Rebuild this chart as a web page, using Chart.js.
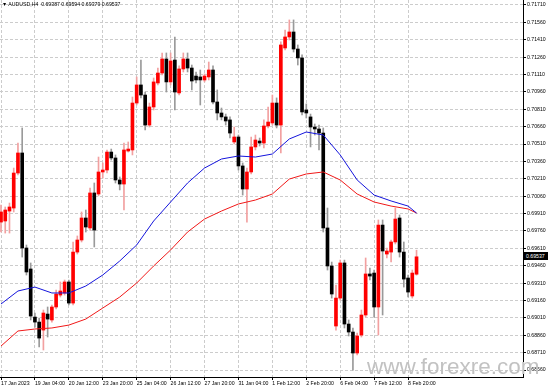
<!DOCTYPE html>
<html>
<head>
<meta charset="utf-8">
<script src="https://cdn.jsdelivr.net/npm/chart.js@4.4.0/dist/chart.umd.min.js"></script>
<style>
  html, body { margin: 0; padding: 0; background: #fff; }
  #wrap { position: relative; width: 548px; height: 389px; overflow: hidden; }
  #title { position: absolute; left: 2px; top: 1px; font: 5.2px 'Liberation Sans', Arial, sans-serif; color: #000; white-space: pre; }
  #mark { position: absolute; left: 367px; top: 354px; font: 22.5px 'Liberation Sans', Arial, sans-serif; color: #c2c2c2; }
  #price { position: absolute; left: 523px; top: 252px; width: 22px; height: 8px; padding-left: 3px; background: #000; color: #fff; font: 5.2px 'Liberation Sans', Arial, sans-serif; line-height: 8px; }
</style>
</head>
<body>
<div id="wrap">
  <canvas id="chart" width="548" height="389"></canvas>
  <div id="title">▼ AUDUSD,H4  0.69387 0.69594 0.69379 0.69537</div>
  <div id="mark">www.forexre.com</div>
  <div id="price">0.69537</div>
</div>
<script>
// AUDUSD H4 candles, 17 Jan 20:00 .. 9 Feb 04:00
const opens = [0.69837, 0.69846, 0.69932, 0.69958, 0.70260, 0.70433, 0.69613, 0.69432, 0.69017, 0.68974,
  0.68905, 0.69043, 0.68992, 0.69104, 0.69207, 0.69225, 0.69320, 0.69138, 0.69578, 0.69682,
  0.69872, 0.69786, 0.70088, 0.70079, 0.70269, 0.70286, 0.70441, 0.70390, 0.70200, 0.70165,
  0.70450, 0.70459, 0.70864, 0.71020, 0.70933, 0.70674, 0.70830, 0.71037, 0.71123, 0.71244,
  0.71046, 0.71235, 0.70951, 0.71158, 0.71244, 0.71166, 0.71097, 0.71089, 0.71063, 0.71089,
  0.71149, 0.70873, 0.70778, 0.70744, 0.70718, 0.70528, 0.70571, 0.70321, 0.70122, 0.70269,
  0.70485, 0.70536, 0.70519, 0.70666, 0.70692, 0.70864, 0.70674, 0.71339, 0.71434, 0.71477,
  0.71330, 0.71253, 0.70804, 0.70744, 0.70657, 0.70640, 0.70605, 0.69786, 0.69458, 0.68940,
  0.69181, 0.69484, 0.68957, 0.68888, 0.68707, 0.68862, 0.69035, 0.69389, 0.69397, 0.69104,
  0.69811, 0.69561, 0.69578, 0.69665, 0.69872, 0.69578, 0.69354, 0.69199, 0.69387];
const highs = [0.69984, 0.69967, 0.70001, 0.70303, 0.70519, 0.70649, 0.69639, 0.69484, 0.69052, 0.69009,
  0.69078, 0.69104, 0.69121, 0.69251, 0.69320, 0.69337, 0.69337, 0.69665, 0.69717, 0.69924,
  0.69941, 0.70131, 0.70174, 0.70398, 0.70347, 0.70459, 0.70467, 0.70416, 0.70226, 0.70519,
  0.70528, 0.70916, 0.71089, 0.71235, 0.70959, 0.70864, 0.71080, 0.71166, 0.71296, 0.71296,
  0.71296, 0.71434, 0.71184, 0.71296, 0.71296, 0.71192, 0.71132, 0.71149, 0.71115, 0.71218,
  0.71184, 0.70977, 0.70821, 0.70769, 0.70744, 0.70657, 0.70588, 0.70347, 0.70303, 0.70571,
  0.70588, 0.70562, 0.70718, 0.70830, 0.70933, 0.70908, 0.71391, 0.71494, 0.71581, 0.71581,
  0.71365, 0.71279, 0.70856, 0.70769, 0.70683, 0.70674, 0.70649, 0.69958, 0.69492, 0.69294,
  0.69509, 0.69509, 0.68992, 0.68923, 0.68879, 0.69078, 0.69527, 0.69440, 0.69423, 0.69855,
  0.69855, 0.69613, 0.69682, 0.69958, 0.69898, 0.69665, 0.69380, 0.69423, 0.69594];
const lows = [0.69751, 0.69742, 0.69742, 0.69924, 0.70243, 0.69535, 0.69380, 0.68992, 0.68931, 0.68759,
  0.68733, 0.68845, 0.68974, 0.69087, 0.69190, 0.69207, 0.69121, 0.69121, 0.69561, 0.69665,
  0.69751, 0.69768, 0.69622, 0.70062, 0.70217, 0.70260, 0.70372, 0.70174, 0.70114, 0.69941,
  0.70441, 0.70416, 0.70847, 0.70908, 0.70631, 0.70657, 0.70804, 0.71020, 0.71106, 0.70959,
  0.71020, 0.70804, 0.70933, 0.71132, 0.71132, 0.70977, 0.71037, 0.70847, 0.71046, 0.71063,
  0.70856, 0.70718, 0.70718, 0.70674, 0.70562, 0.70511, 0.70286, 0.70070, 0.69837, 0.70252,
  0.70459, 0.70493, 0.70476, 0.70649, 0.70674, 0.70649, 0.70433, 0.71322, 0.71408, 0.71304,
  0.71192, 0.70761, 0.70735, 0.70485, 0.70588, 0.70459, 0.69751, 0.69423, 0.69181, 0.68905,
  0.69164, 0.68923, 0.68854, 0.68560, 0.68690, 0.68845, 0.69017, 0.69337, 0.69017, 0.68862,
  0.69035, 0.69527, 0.69492, 0.69648, 0.69535, 0.69276, 0.69190, 0.69181, 0.69379];
const closes = [0.69924, 0.69941, 0.69967, 0.70260, 0.70433, 0.69613, 0.69406, 0.69026, 0.68974, 0.68836,
  0.69052, 0.69000, 0.69104, 0.69216, 0.69242, 0.69320, 0.69138, 0.69578, 0.69682, 0.69872,
  0.69794, 0.70088, 0.69768, 0.70269, 0.70286, 0.70441, 0.70390, 0.70200, 0.70165, 0.70459,
  0.70467, 0.70864, 0.71020, 0.70933, 0.70674, 0.70830, 0.71046, 0.71123, 0.71244, 0.71046,
  0.71227, 0.70959, 0.71158, 0.71244, 0.71166, 0.71054, 0.71063, 0.71063, 0.71097, 0.71149,
  0.70873, 0.70778, 0.70744, 0.70709, 0.70605, 0.70571, 0.70321, 0.70122, 0.70269, 0.70485,
  0.70545, 0.70519, 0.70666, 0.70700, 0.70864, 0.70674, 0.71365, 0.71434, 0.71477, 0.71330,
  0.71253, 0.70787, 0.70778, 0.70657, 0.70640, 0.70605, 0.69786, 0.69458, 0.69216, 0.69181,
  0.69484, 0.68957, 0.68888, 0.68707, 0.68854, 0.69035, 0.69389, 0.69371, 0.69104, 0.69811,
  0.69587, 0.69587, 0.69665, 0.69863, 0.69578, 0.69345, 0.69233, 0.69397, 0.69537];

// moving averages, read at every 4th bar
const maBars = [0, 4, 8, 12, 16, 20, 24, 28, 32, 36, 40, 44, 48, 52, 56, 60, 64, 68, 72, 76, 80, 84, 88, 92, 96, 98];
const maFast = [0.69130, 0.69242, 0.69276, 0.69225, 0.69225, 0.69285, 0.69380, 0.69501, 0.69639, 0.69846,
  0.70010, 0.70174, 0.70303, 0.70381, 0.70407, 0.70398, 0.70424, 0.70554, 0.70614, 0.70588,
  0.70416, 0.70200, 0.70070, 0.70019, 0.69975, 0.69915];
const maSlow = [0.68767, 0.68897, 0.68914, 0.68923, 0.68948, 0.69000, 0.69095, 0.69190, 0.69311, 0.69458,
  0.69596, 0.69751, 0.69863, 0.69932, 0.69993, 0.70027, 0.70079, 0.70208, 0.70252, 0.70269,
  0.70200, 0.70079, 0.70010, 0.69975, 0.69950, 0.69915];

const timeBars = [0, 8, 16, 24, 32, 40, 48, 56, 64, 72, 80, 88, 96];
const timeLabels = ['17 Jan 2023', '19 Jan 04:00', '20 Jan 12:00', '23 Jan 20:00', '25 Jan 04:00', '26 Jan 12:00',
  '27 Jan 20:00', '31 Jan 04:00', '1 Feb 12:00', '2 Feb 20:00', '6 Feb 04:00', '7 Feb 12:00', '8 Feb 20:00'];
const priceTicks = [0.68560, 0.68710, 0.68860, 0.69010, 0.69160, 0.69310, 0.69460, 0.69610, 0.69760, 0.69910, 0.70060,
  0.70210, 0.70360, 0.70510, 0.70660, 0.70810, 0.70960, 0.71110, 0.71260, 0.71410, 0.71560, 0.71710];

const isUp = closes.map((c, i) => c >= opens[i]);
const wicks = highs.map((h, i) => ({ x: i, y: [lows[i], h] }));
const bodies = opens.map((o, i) => ({ x: i, y: [o, closes[i]] }));

const smallFont = { family: "'Liberation Sans', Arial, sans-serif", size: 5.2 };
const gridColor = '#cccccc';

new Chart(document.getElementById('chart'), {
  type: 'bar',
  data: {
    datasets: [
      {
        type: 'line', data: maBars.map((b, i) => ({ x: b, y: maFast[i] })),
        borderColor: '#1414dc', borderWidth: 1, pointRadius: 0, tension: 0, order: 0
      },
      {
        type: 'line', data: maBars.map((b, i) => ({ x: b, y: maSlow[i] })),
        borderColor: '#f01818', borderWidth: 1, pointRadius: 0, tension: 0, order: 0
      },
      {
        data: bodies, barThickness: 3, minBarLength: 1, grouped: false, order: 1,
        backgroundColor: (c) => isUp[c.dataIndex] ? '#ff0000' : '#000000'
      },
      {
        data: wicks, barThickness: 1, grouped: false, order: 2,
        backgroundColor: (c) => isUp[c.dataIndex] ? '#f2a0a0' : '#9a9a9a'
      }
    ]
  },
  options: {
    responsive: false,
    animation: false,
    events: [],
    layout: { padding: 0 },
    plugins: { legend: { display: false }, tooltip: { enabled: false } },
    scales: {
      x: {
        type: 'linear', min: -0.236, max: 123.11, offset: false,
        afterBuildTicks: (s) => { s.ticks = timeBars.map(v => ({ value: v })); },
        afterFit: (s) => { s.height = 12; s.paddingLeft = 0; s.paddingRight = 0; },
        grid: { color: gridColor, offset: false, tickLength: 3, tickColor: '#000' },
        border: { color: '#000', dash: [3, 2] },
        ticks: {
          autoSkip: false, maxRotation: 0, align: 'start', padding: 0, color: '#000', font: smallFont,
          callback: (v, i) => timeLabels[i]
        }
      },
      y: {
        position: 'right', min: 0.6850, max: 0.71753,
        afterBuildTicks: (s) => { s.ticks = priceTicks.map(v => ({ value: v })); },
        afterFit: (s) => { s.width = 25; s.paddingTop = 0; s.paddingBottom = 0; },
        grid: { color: gridColor, tickLength: 3, tickColor: '#000' },
        border: { color: '#000', dash: [3, 2] },
        ticks: { padding: 1, color: '#000', font: smallFont, callback: (v) => v.toFixed(5) }
      }
    }
  }
});
</script>
</body>
</html>
